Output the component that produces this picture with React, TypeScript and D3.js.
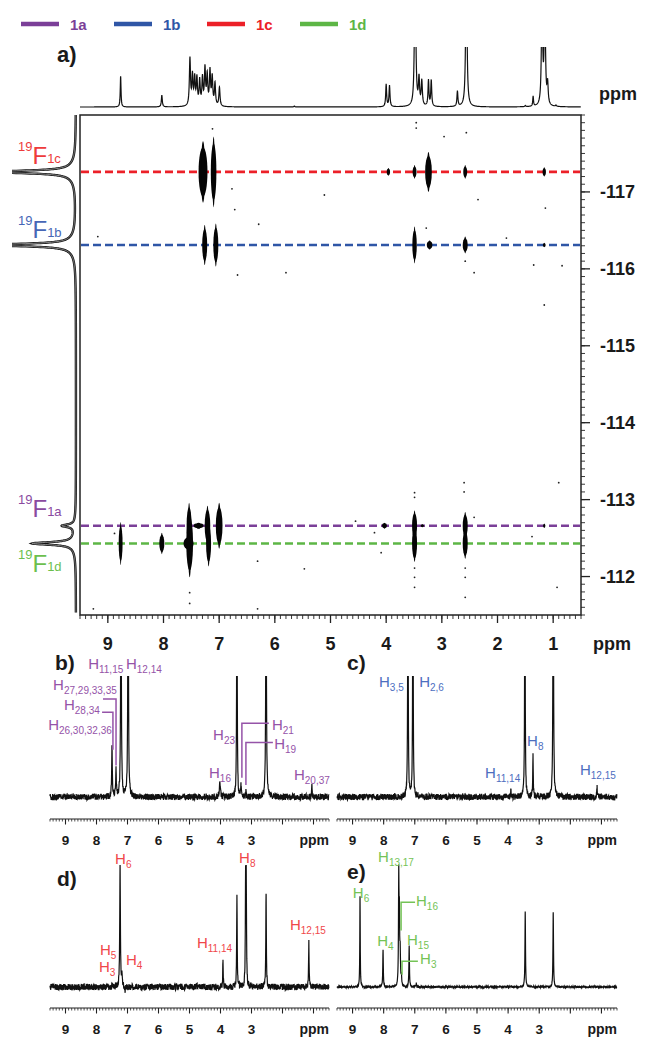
import React from 'react';
import * as d3 from 'd3';

const FONT = '"Liberation Sans", Arial, Helvetica, sans-serif';

// compounds, legend and 19F projection
const compounds = ['1a', '1b', '1c', '1d'];
const fShifts = [-112.66, -116.31, -117.26, -112.43];
const fHeights = [0.2, 1.3, 1.3, 0.66];
const fWidths = [0.02, 0.02, 0.02, 0.02];

const legendColors = ['#7b3f98', '#2f56a6', '#ec2028', '#5db646'];
const tagColors = ['#8a4a9f', '#4666b6', '#ee3b3b', '#6cbf4e'];

// 1H projection above panel a: [ppm, height, half width]
const projPeaks = [
  [8.77, 0.52, 0.008], [8.03, 0.2, 0.01],
  [7.525, 0.8, 0.012], [7.48, 0.5, 0.012], [7.44, 0.46, 0.012], [7.4, 0.46, 0.012],
  [7.35, 0.42, 0.012], [7.3, 0.46, 0.012], [7.255, 0.62, 0.012], [7.215, 0.5, 0.012],
  [7.165, 0.58, 0.012], [7.125, 0.48, 0.012], [7.075, 0.38, 0.012], [6.995, 0.32, 0.012],
  [5.65, 0.015, 0.01], [4.0, 0.38, 0.01], [3.94, 0.36, 0.01],
  [3.48, 3.0, 0.012], [3.41, 0.45, 0.012], [3.36, 0.42, 0.012], [3.24, 0.44, 0.01], [3.19, 0.44, 0.01],
  [2.72, 0.26, 0.01], [2.56, 3.0, 0.012], [1.5, 0.02, 0.01], [1.36, 0.17, 0.008],
  [1.2, 2.0, 0.012], [1.15, 2.0, 0.012], [1.1, 0.35, 0.012], [0.95, 0.02, 0.01],
];

// cross peaks: [1H ppm, half width (1H ppm), half span (19F ppm)]
const cross1a = [
  [7.54, 0.045, 0.3], [7.37, 0.09, 0.04], [7.21, 0.05, 0.26], [7.0, 0.06, 0.3],
  [4.03, 0.045, 0.04], [3.49, 0.045, 0.2], [3.35, 0.03, 0.02], [2.58, 0.045, 0.18], [1.16, 0.02, 0.03],
];
const cross1b = [
  [7.26, 0.045, 0.26], [7.06, 0.045, 0.28], [3.49, 0.04, 0.24], [3.22, 0.05, 0.06],
  [2.58, 0.045, 0.11], [1.16, 0.025, 0.03],
];
const cross1c = [
  [7.29, 0.08, 0.4], [7.1, 0.05, 0.46], [3.96, 0.03, 0.05], [3.49, 0.035, 0.09],
  [3.24, 0.06, 0.26], [2.58, 0.035, 0.09], [1.16, 0.03, 0.06],
];
const cross1d = [
  [8.77, 0.035, 0.28], [8.03, 0.045, 0.14], [7.53, 0.06, 0.44], [7.55, 0.09, 0.1],
  [7.19, 0.045, 0.3], [3.49, 0.045, 0.24], [2.58, 0.045, 0.2],
];
const crossSets = [cross1a, cross1b, cross1c, cross1d];

// t1 noise specks: [1H ppm, 19F ppm]
const specks = [
  [7.12, -117.82], [6.77, -117.04], [6.72, -116.77], [6.29, -116.58], [5.11, -116.96],
  [6.67, -115.92], [5.8, -115.95], [9.18, -116.42], [3.46, -117.9], [3.46, -117.83],
  [2.96, -117.72], [2.56, -117.77], [2.35, -116.9], [1.84, -116.4], [1.35, -116.05],
  [0.84, -116.04], [1.14, -116.79], [2.42, -115.95], [3.28, -116.53], [2.58, -116.1],
  [1.16, -115.53], [9.26, -111.58], [6.31, -111.58], [6.31, -112.2], [5.47, -112.1],
  [8.88, -112.56], [2.6, -113.22], [2.6, -113.1], [0.9, -113.22], [3.49, -113.09],
  [3.49, -113.03], [3.49, -112.11], [3.49, -111.99], [3.49, -111.86], [2.58, -112.11],
  [2.58, -111.99], [2.58, -111.73], [7.53, -111.79], [7.53, -111.65], [4.21, -112.57],
  [4.09, -112.31], [1.38, -112.52], [0.93, -111.86], [2.42, -112.77], [4.55, -112.72],
];

const hTicks = [9, 8, 7, 6, 5, 4, 3, 2, 1];
const fTicks = [-117, -116, -115, -114, -113, -112];
const subTicks = [9, 8, 7, 6, 5, 4, 3];

// 1D spectra b-e: [ppm, height, half width]
const peaksB = [
  [7.5, 0.42, 0.012], [7.37, 0.22, 0.012], [7.21, 2.2, 0.012], [6.98, 2.2, 0.012],
  [4.02, 0.11, 0.02], [3.47, 2.2, 0.01], [3.34, 0.1, 0.01], [3.18, 0.05, 0.01],
  [2.53, 2.2, 0.012], [1.05, 0.09, 0.01],
];
const peaksC = [
  [7.22, 2.2, 0.01], [7.06, 2.2, 0.01], [3.91, 0.07, 0.01], [3.46, 2.2, 0.01],
  [3.2, 0.34, 0.01], [2.55, 2.2, 0.012], [1.14, 0.09, 0.01],
];
const peaksD = [
  [7.24, 1.0, 0.012], [7.18, 0.1, 0.01], [7.08, -0.06, 0.01], [3.92, 0.22, 0.01],
  [3.47, 0.74, 0.01], [3.19, 0.82, 0.01], [3.17, 0.82, 0.01], [2.53, 0.78, 0.01], [1.15, 0.36, 0.01],
];
const peaksE = [
  [8.76, 0.74, 0.008], [8.02, 0.3, 0.01], [7.515, 0.88, 0.01], [7.495, 0.5, 0.01],
  [7.47, 0.25, 0.012], [7.43, 0.08, 0.01], [7.18, 0.33, 0.01], [6.95, 0.03, 0.01],
  [3.45, 0.61, 0.01], [2.55, 0.61, 0.01],
];

// assignments: [main, subscript, ppm, level]
const labelsB: [string, string, number, number][] = [
  ['H', '11,15', 8.27, 1.06], ['H', '12,14', 7.05, 1.06], ['H', '27,29,33,35', 9.4, 0.885],
  ['H', '28,34', 9.05, 0.72], ['H', '26,30,32,36', 9.56, 0.55], ['H', '23', 4.24, 0.47],
  ['H', '21', 2.34, 0.55], ['H', '19', 2.27, 0.4], ['H', '16', 4.37, 0.16], ['H', '20,37', 1.63, 0.14],
];
const leadersB = [
  [[7.79, 0.81], [7.37, 0.81], [7.37, 0.26]],
  [[7.82, 0.7], [7.47, 0.7], [7.47, 0.39]],
  [[2.44, 0.61], [3.31, 0.61], [3.31, 0.16]],
  [[2.31, 0.45], [3.18, 0.45], [3.18, 0.1]],
];
const labelsC: [string, string, number, number][] = [
  ['H', '3,5', 8.15, 0.91], ['H', '2,6', 6.86, 0.91], ['H', '11,14', 4.74, 0.16],
  ['H', '8', 3.39, 0.42], ['H', '12,15', 1.69, 0.18],
];
const labelsD: [string, string, number, number][] = [
  ['H', '6', 7.4, 1.01], ['H', '5', 7.89, 0.26], ['H', '3', 7.92, 0.12], ['H', '4', 7.05, 0.18],
  ['H', '11,14', 4.76, 0.32], ['H', '8', 3.4, 1.02], ['H', '12,15', 1.76, 0.47],
];
const labelsE: [string, string, number, number][] = [
  ['H', '13,17', 8.18, 1.02], ['H', '6', 8.99, 0.72], ['H', '16', 6.96, 0.66],
  ['H', '4', 8.21, 0.33], ['H', '15', 7.25, 0.34], ['H', '3', 6.83, 0.19],
];
const leadersE = [
  [[6.99, 0.69], [7.44, 0.69], [7.44, 0.46]],
  [[6.9, 0.21], [7.41, 0.21], [7.41, 0.1]],
];

const jitter = (i: number, s: number) => {
  const v = Math.sin(i * 127.1 + s * 311.7) * 43758.5453;
  return (v - Math.floor(v)) * 2 - 1;
};

const lorentz = (peaks: number[][], p: number) =>
  d3.sum(peaks, ([c, h, w]) => (h * w * w) / ((p - c) * (p - c) + w * w));

function trace(peaks: number[][], step: number, noise: number, seed: number) {
  const grid = d3.range(9.5, 0.5, -step).concat(peaks.map((d) => d[0]));
  grid.sort((a, b) => b - a);
  return grid.map((p, i) => [p, lorentz(peaks, p), noise ? noise * jitter(i, seed) : 0]);
}

function HLabel({ x, y, main, sub, color }: any) {
  return (
    <text x={x} y={y} fill={color} fontSize={15}>
      {main}
      <tspan fontSize={10} dy={4}>{sub}</tspan>
    </text>
  );
}

function SubPanel({ id, x0, x1, base, top, axisY, peaks, labels, leaders, noise, color, tag, tagX, tagY }: any) {
  const x = d3.scaleLinear().domain([9.5, 0.5]).range([x0, x1]);
  const y = d3.scaleLinear().domain([0, 1]).range([base, top]);
  const pts = trace(peaks, 0.006, noise, id.charCodeAt(0));
  const line = d3.line<number[]>().x((d) => x(d[0])).y((d) => y(d[1]) + d[2]);
  const leader = d3.line<number[]>().x((d) => x(d[0])).y((d) => y(d[1]));
  const minor = d3.range(5, 96).map((i) => i / 10);
  return (
    <g>
      <clipPath id={'clip-' + id}>
        <rect x={x0 - 2} y={top} width={x1 - x0 + 4} height={axisY - top} />
      </clipPath>
      <path d={line(pts) || ''} fill="none" stroke="#111" strokeWidth={1.2} clipPath={`url(#clip-${id})`} />
      {(leaders || []).map((l: number[][], i: number) => (
        <path key={i} d={leader(l) || ''} fill="none" stroke={color} strokeWidth={1.5} />
      ))}
      {labels.map((l: any, i: number) => (
        <HLabel key={i} x={x(l[2])} y={y(l[3])} main={l[0]} sub={l[1]} color={color} />
      ))}
      <line x1={x0} x2={x1} y1={axisY} y2={axisY} stroke="#222" strokeWidth={1.2} />
      {minor.map((t) => (
        <line key={t} x1={x(t)} x2={x(t)} y1={axisY} y2={axisY + 2.5} stroke="#222" strokeWidth={0.8} />
      ))}
      {hTicks.map((t) => (
        <line key={t} x1={x(t)} x2={x(t)} y1={axisY} y2={axisY + 5.5} stroke="#222" strokeWidth={1.1} />
      ))}
      {subTicks.map((t) => (
        <text key={t} x={x(t)} y={axisY + 26} textAnchor="middle" fontSize={13.5} fontWeight="bold" fill="#1a1a1a">
          {t}
        </text>
      ))}
      <text x={x1} y={axisY + 26} textAnchor="end" fontSize={14} fontWeight="bold" fill="#1a1a1a">ppm</text>
      <text x={tagX} y={tagY} fontSize={21} fontWeight="bold" fill="#1a1a1a">{tag}</text>
    </g>
  );
}

export default function App() {
  const xA = d3.scaleLinear().domain([9.5, 0.5]).range([80, 581]);
  const yF = d3.scaleLinear().domain([-118, -111.5]).range([115, 615]);
  const projY = d3.scaleLinear().domain([0, 1]).range([107, 48]);
  const fX = d3.scaleLinear().domain([0, 1]).range([76, 14]);

  const proj = trace(projPeaks, 0.004, 0, 0);
  const projLine = d3.line<number[]>().x((d) => xA(d[0])).y((d) => projY(d[1]));

  const fPeaks = fShifts.map((s, i) => [s, fHeights[i], fWidths[i]]);
  const fWings = fShifts.map((s, i) => [s, fHeights[i] * 0.07, 0.13]);
  const fGrid = d3.range(-118, -111.53, 0.002).concat(fShifts).sort((a, b) => a - b);
  const fLine = d3.line<number>()
    .x((f) => fX(lorentz(fPeaks, f) + lorentz(fWings, f)))
    .y((f) => yF(f));

  const minorH = d3.range(5, 96).map((i) => i / 10);
  const minorF = d3.range(-1180, -1114).map((i) => i / 10);

  const tagY = [517, 238, 164, 572];

  return (
    <svg width={645} height={1038} fontFamily={FONT}
      style={{ position: 'absolute', left: 0, top: 0, background: '#fff' }}>
      {/* legend */}
      {compounds.map((c, i) => (
        <g key={c}>
          <line x1={21 + i * 93} x2={59 + i * 93} y1={24} y2={24} stroke={legendColors[i]} strokeWidth={4.5} />
          <text x={70 + i * 93} y={29.5} fontSize={15} fontWeight="bold" fill={legendColors[i]}>{c}</text>
        </g>
      ))}
      <text x={57} y={62} fontSize={22} fontWeight="bold" fill="#1a1a1a">a)</text>

      {/* 1H projection */}
      <clipPath id="clip-proj"><rect x={78} y={47} width={506} height={70} /></clipPath>
      <path d={projLine(proj) || ''} fill="none" stroke="#111" strokeWidth={1.2} clipPath="url(#clip-proj)" />
      <text x={599} y={100} fontSize={18} fontWeight="bold" fill="#1a1a1a">ppm</text>

      {/* 19F projection */}
      <clipPath id="clip-f"><rect x={12} y={112} width={70} height={506} /></clipPath>
      <path d={fLine(fGrid) || ''} fill="none" stroke="#111" strokeWidth={2.4} clipPath="url(#clip-f)" />
      <path d={fLine(fGrid) || ''} fill="none" stroke="#bdbdbd" strokeWidth={0.7} clipPath="url(#clip-f)" />
      {compounds.map((c, i) => (
        <text key={c} x={18} y={tagY[i]} fill={tagColors[i]}>
          <tspan fontSize={13} dy={-13}>19</tspan>
          <tspan fontSize={24} dy={13}>F</tspan>
          <tspan fontSize={13} dy={-1}>{c}</tspan>
        </text>
      ))}

      {/* 2D map */}
      <rect x={80} y={115} width={501} height={500} fill="none" stroke="#222" strokeWidth={1.5} />
      {fShifts.map((s, i) => (
        <line key={i} x1={81} x2={580} y1={yF(s)} y2={yF(s)} stroke={legendColors[i]}
          strokeWidth={2.6} strokeDasharray="8 4" />
      ))}
      {crossSets.map((set, i) =>
        set.map(([h, rw, rf], j) => {
          const cx = xA(h);
          const cy = yF(fShifts[i]);
          const rx = Math.abs(xA(h + rw) - cx);
          const ry = Math.abs(yF(fShifts[i] + rf) - cy);
          return (
            <g key={`${i}-${j}`}>
              <ellipse cx={cx} cy={cy} rx={rx} ry={ry * 0.8} fill="#050505" />
              <ellipse cx={cx} cy={cy} rx={rx * 0.45} ry={ry} fill="#050505" />
            </g>
          );
        })
      )}
      {specks.map(([h, f], i) => (
        <circle key={i} cx={xA(h)} cy={yF(f)} r={0.9} fill="#222" />
      ))}

      {/* axes of 2D map */}
      {minorH.map((t) => (
        <line key={t} x1={xA(t)} x2={xA(t)} y1={615} y2={619} stroke="#222" strokeWidth={0.9} />
      ))}
      {hTicks.map((t) => (
        <g key={t}>
          <line x1={xA(t)} x2={xA(t)} y1={615} y2={623} stroke="#222" strokeWidth={1.3} />
          <text x={xA(t)} y={650} textAnchor="middle" fontSize={18} fontWeight="bold" fill="#1a1a1a">{t}</text>
        </g>
      ))}
      <text x={593} y={650} fontSize={18} fontWeight="bold" fill="#1a1a1a">ppm</text>
      {minorF.map((t) => (
        <line key={t} x1={581} x2={585} y1={yF(t)} y2={yF(t)} stroke="#222" strokeWidth={0.9} />
      ))}
      {fTicks.map((t) => (
        <g key={t}>
          <line x1={581} x2={590} y1={yF(t)} y2={yF(t)} stroke="#222" strokeWidth={1.3} />
          <text x={600} y={yF(t) + 6.5} fontSize={18} fontWeight="bold" fill="#1a1a1a">{t}</text>
        </g>
      ))}

      {/* 1D spectra b-e */}
      <SubPanel id="b" x0={50} x1={329} base={797} top={676} axisY={819} peaks={peaksB}
        labels={labelsB} leaders={leadersB} noise={3.2} color="#9553a8" tag="b)" tagX={55} tagY={670} />
      <SubPanel id="c" x0={337} x1={617} base={797} top={676} axisY={819} peaks={peaksC}
        labels={labelsC} noise={3.2} color="#4d6ebf" tag="c)" tagX={347} tagY={670} />
      <SubPanel id="d" x0={50} x1={329} base={987} top={865} axisY={1008} peaks={peaksD}
        labels={labelsD} noise={3.2} color="#f0474a" tag="d)" tagX={57} tagY={886} />
      <SubPanel id="e" x0={337} x1={617} base={987} top={864} axisY={1008} peaks={peaksE}
        labels={labelsE} leaders={leadersE} noise={0.8} color="#74c356" tag="e)" tagX={347} tagY={879} />
    </svg>
  );
}
